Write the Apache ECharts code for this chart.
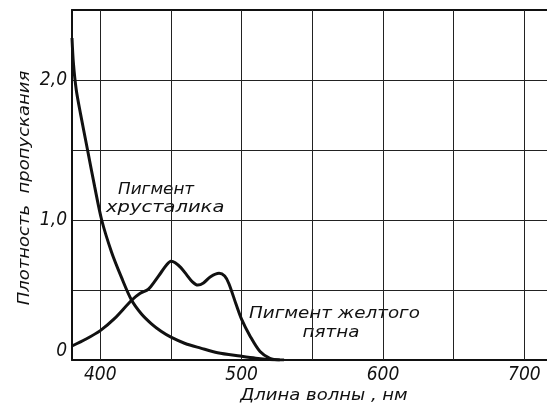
<!DOCTYPE html>
<html>
<head>
<meta charset="utf-8">
<script src="https://cdn.jsdelivr.net/npm/echarts@6/dist/echarts.min.js"></script>
<style>
  html, body { margin: 0; padding: 0; background: #fff; }
  #chart { width: 547px; height: 410px; }
</style>
</head>
<body>
<div id="chart"></div>
<script>
// Optical density of the lens pigment (хрусталик)
const lensWavelengths = [380, 381, 383, 386, 391, 396, 401, 408, 415, 422, 429, 436, 443, 450, 460, 471, 483, 499, 510, 520, 530];
const lensDensity     = [2.3, 2.12, 1.93, 1.76, 1.5, 1.24, 1.0, 0.77, 0.59, 0.43, 0.33, 0.26, 0.205, 0.163, 0.118, 0.085, 0.052, 0.028, 0.013, 0.004, 0];

// Optical density of the macular pigment (желтое пятно)
const macularWavelengths = [380, 390, 400, 410, 422, 428, 434, 438, 443, 447, 450, 453, 457, 461, 465, 469, 473, 478, 484, 488, 491, 496, 500, 506, 513, 520, 527];
const macularDensity     = [0.1, 0.15, 0.21, 0.295, 0.425, 0.475, 0.505, 0.555, 0.625, 0.68, 0.705, 0.695, 0.66, 0.61, 0.56, 0.535, 0.55, 0.595, 0.62, 0.6, 0.545, 0.4, 0.29, 0.17, 0.06, 0.012, 0];

// Axis ticks
const gridWavelengths = [400, 450, 500, 550, 600, 650, 700];
const xTickLabels = [400, 500, 600, 700];
const yTickLabels = [0, 1, 2];

const INK = '#111';
const numFont = "'Liberation Sans Narrow', 'DejaVu Sans Condensed', sans-serif";
const textFont = "'DejaVu Sans', sans-serif";

const pairs = (xs, ys) => xs.map((x, i) => [x, ys[i]]);

const chart = echarts.init(document.getElementById('chart'), null, { renderer: 'canvas' });

chart.setOption({
  animation: false,
  backgroundColor: '#fff',
  grid: { left: 72, right: 0, top: 10, bottom: 50 },
  xAxis: [
    {
      type: 'value',
      min: 380,
      max: 716,
      interval: 10,
      axisLine: { show: true, lineStyle: { color: INK, width: 2 } },
      axisTick: { show: false },
      splitLine: { show: false },
      axisLabel: {
        margin: 6,
        color: INK,
        fontFamily: numFont,
        fontStyle: 'italic',
        fontSize: 19,
        showMinLabel: false,
        showMaxLabel: false,
        formatter: v => (xTickLabels.indexOf(v) >= 0 ? String(v) : '')
      }
    },
    {
      type: 'value',
      position: 'top',
      min: 380,
      max: 716,
      axisLine: { show: true, onZero: false, lineStyle: { color: INK, width: 2 } },
      axisTick: { show: false },
      axisLabel: { show: false },
      splitLine: { show: false }
    }
  ],
  yAxis: {
    type: 'value',
    min: 0,
    max: 2.5,
    interval: 0.5,
    axisLine: { show: true, onZero: false, lineStyle: { color: INK, width: 2 } },
    axisTick: { show: false },
    splitLine: { show: true, lineStyle: { color: '#222', width: 1 } },
    axisLabel: {
      margin: 5,
      color: INK,
      fontFamily: numFont,
      fontStyle: 'italic',
      fontSize: 19,
      formatter: v => {
        if (v === 0) return '{z|0}';
        if (yTickLabels.indexOf(v) >= 0) return v.toFixed(1).replace('.', ',');
        return '';
      },
      rich: {
        z: {
          color: INK,
          fontFamily: numFont,
          fontStyle: 'italic',
          fontSize: 19,
          padding: [0, 0, 18, 0]
        }
      }
    }
  },
  series: [
    {
      name: 'Пигмент хрусталика',
      type: 'line',
      data: pairs(lensWavelengths, lensDensity),
      smooth: 0.3,
      symbol: 'none',
      lineStyle: { color: INK, width: 3 },
      z: 5,
      markLine: {
        silent: true,
        symbol: 'none',
        label: { show: false },
        lineStyle: { color: '#222', width: 1, type: 'solid' },
        data: gridWavelengths.map(w => ({ xAxis: w }))
      }
    },
    {
      name: 'Пигмент желтого пятна',
      type: 'line',
      data: pairs(macularWavelengths, macularDensity),
      smooth: 0.3,
      symbol: 'none',
      lineStyle: { color: INK, width: 3 },
      z: 5
    }
  ],
  graphic: [
    {
      type: 'text', x: 118, y: 190, scaleX: 1.12,
      style: { text: 'Пигмент', font: 'italic 15px ' + textFont, fill: INK, textVerticalAlign: 'middle' }
    },
    {
      type: 'text', x: 106, y: 208, scaleX: 1.3,
      style: { text: 'хрусталика', font: 'italic 15px ' + textFont, fill: INK, textVerticalAlign: 'middle' }
    },
    {
      type: 'text', x: 249, y: 314, scaleX: 1.22,
      style: { text: 'Пигмент желтого', font: 'italic 15px ' + textFont, fill: INK, textVerticalAlign: 'middle' }
    },
    {
      type: 'text', x: 331, y: 333, scaleX: 1.22,
      style: { text: 'пятна', font: 'italic 15px ' + textFont, fill: INK, textAlign: 'center', textVerticalAlign: 'middle' }
    },
    {
      type: 'text', x: 324, y: 396, scaleX: 1.2,
      style: { text: 'Длина волны , нм', font: 'italic 15px ' + textFont, fill: INK, textAlign: 'center', textVerticalAlign: 'middle' }
    },
    {
      type: 'text', x: 25, y: 188, rotation: Math.PI / 2, scaleX: 1.2,
      style: { text: 'Плотность  пропускания', font: 'italic 15px ' + textFont, fill: INK, textAlign: 'center', textVerticalAlign: 'middle' }
    }
  ]
});
</script>
</body>
</html>
